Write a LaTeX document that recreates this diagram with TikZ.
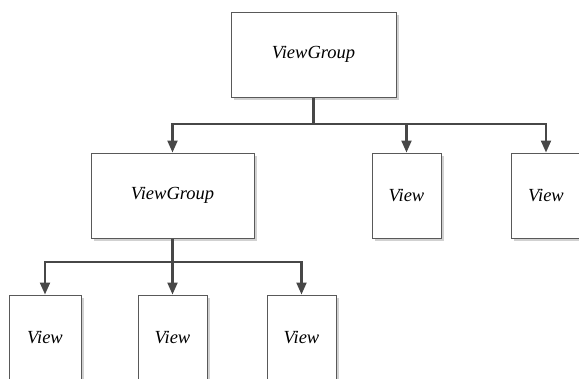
\documentclass[tikz,border=0pt]{standalone}
\usepackage{fontspec}
\newfontfamily\vfont{Liberation Serif Italic}
\usetikzlibrary{arrows.meta,shadows}
\begin{document}
\begin{tikzpicture}[x=1pt,y=1pt,
  box/.style={draw=black!65,line width=1pt,fill=white,minimum height=85pt,inner sep=0pt,
    font=\vfont\fontsize{18.5}{21}\selectfont,
    drop shadow={shadow xshift=2.5pt,shadow yshift=-2.5pt,fill=black!18,opacity=1}},
  conn/.style={draw=black!72,line width=2.2pt},
  arr/.style={conn,-{Triangle[width=10pt,length=12pt]}}]
\useasboundingbox (0,0) rectangle (579,-378);
\clip (0,0) rectangle (579,-378);
\node[box,minimum width=165pt] (top) at (313.5,-54.5) {ViewGroup};
\node[box,minimum width=163pt] (vg) at (172.5,-195.5) {ViewGroup};
\node[box,minimum width=69pt] (v1) at (406.5,-195.5) {View};
\node[box,minimum width=69pt] (v2) at (546,-195.5) {View};
\node[box,minimum width=72pt] (b1) at (45,-337.5) {View};
\node[box,minimum width=69pt] (b2) at (172.5,-337.5) {View};
\node[box,minimum width=69pt] (b3) at (301.5,-337.5) {View};
\coordinate (j1) at (313.5,-124);
\coordinate (j2) at (172.5,-262);
\draw[conn] (top.south) -- (j1);
\draw[arr] (j1) -| (vg.north);
\draw[arr] (j1) -| (v1.north);
\draw[arr] (j1) -| (v2.north);
\draw[conn] (vg.south) -- (j2);
\draw[arr] (j2) -| (b1.north);
\draw[arr] (j2) -- (b2.north);
\draw[arr] (j2) -| (b3.north);
\end{tikzpicture}
\end{document}
